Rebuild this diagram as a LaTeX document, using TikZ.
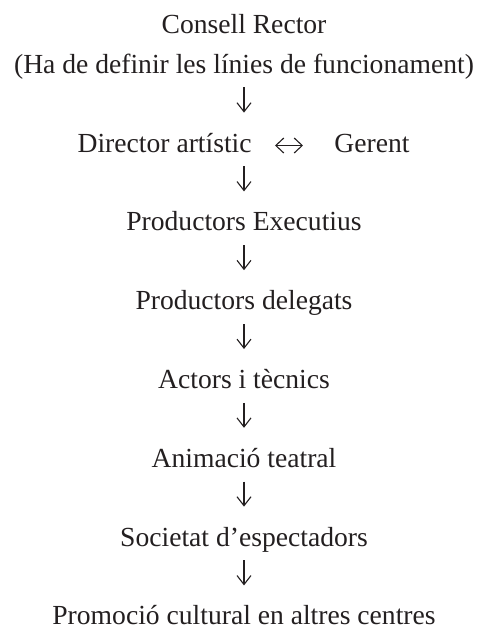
\documentclass[tikz,border=0pt]{standalone}
\usepackage{fontspec}
\setmainfont{Liberation Serif}
\usetikzlibrary{arrows.meta}
\definecolor{ink}{HTML}{231F20}
\tikzset{
  lbl/.style={inner sep=0pt, text height=9.5pt, text depth=3pt, font=\fontsize{13.8pt}{16pt}\selectfont, text=ink},
  down/.style={draw=ink, line width=0.55pt, -{Straight Barb[length=4.5pt,width=7pt,line width=0.55pt]}, shorten <=4pt, shorten >=10pt},
  both/.style={draw=ink, line width=0.55pt, {Straight Barb[length=4pt,width=7.5pt,line width=0.55pt]}-{Straight Barb[length=4pt,width=7.5pt,line width=0.55pt]}}
}
\begin{document}
\begin{tikzpicture}[x=0.5pt,y=-0.5pt]
\useasboundingbox (0,0) rectangle (478,629);
\node[lbl, anchor=base] (cr) at (244,33) {Consell Rector};
\node[lbl, anchor=base] (ha) at (244,73) {(Ha de definir les línies de funcionament)};
\node[lbl, anchor=base east] (da) at (252,152) {Director artístic};
\node[lbl, anchor=base west] (ge) at (334,152) {Gerent};
\node[lbl, anchor=base] (pe) at (244,230.8) {Productors Executius};
\node[lbl, anchor=base] (pd) at (244,309.6) {Productors delegats};
\node[lbl, anchor=base] (at) at (244,388.4) {Actors i tècnics};
\node[lbl, anchor=base] (an) at (244,467.2) {Animació teatral};
\node[lbl, anchor=base] (se) at (244,546) {Societat d’espectadors};
\node[lbl, anchor=base] (pc) at (244,624.8) {Promoció cultural en altres centres};
\draw[down] (ha.south) -- (ha.south |- da.north);
\draw[down] (pe.north |- da.south) -- (pe.north);
\draw[down] (pe.south) -- (pd.north);
\draw[down] (pd.south) -- (at.north);
\draw[down] (at.south) -- (an.north);
\draw[down] (an.south) -- (se.north);
\draw[down] (se.south) -- (pc.north);
\draw[both, shorten <=11.5pt, shorten >=15.5pt] (da.east) -- (ge.west);
\end{tikzpicture}
\end{document}
